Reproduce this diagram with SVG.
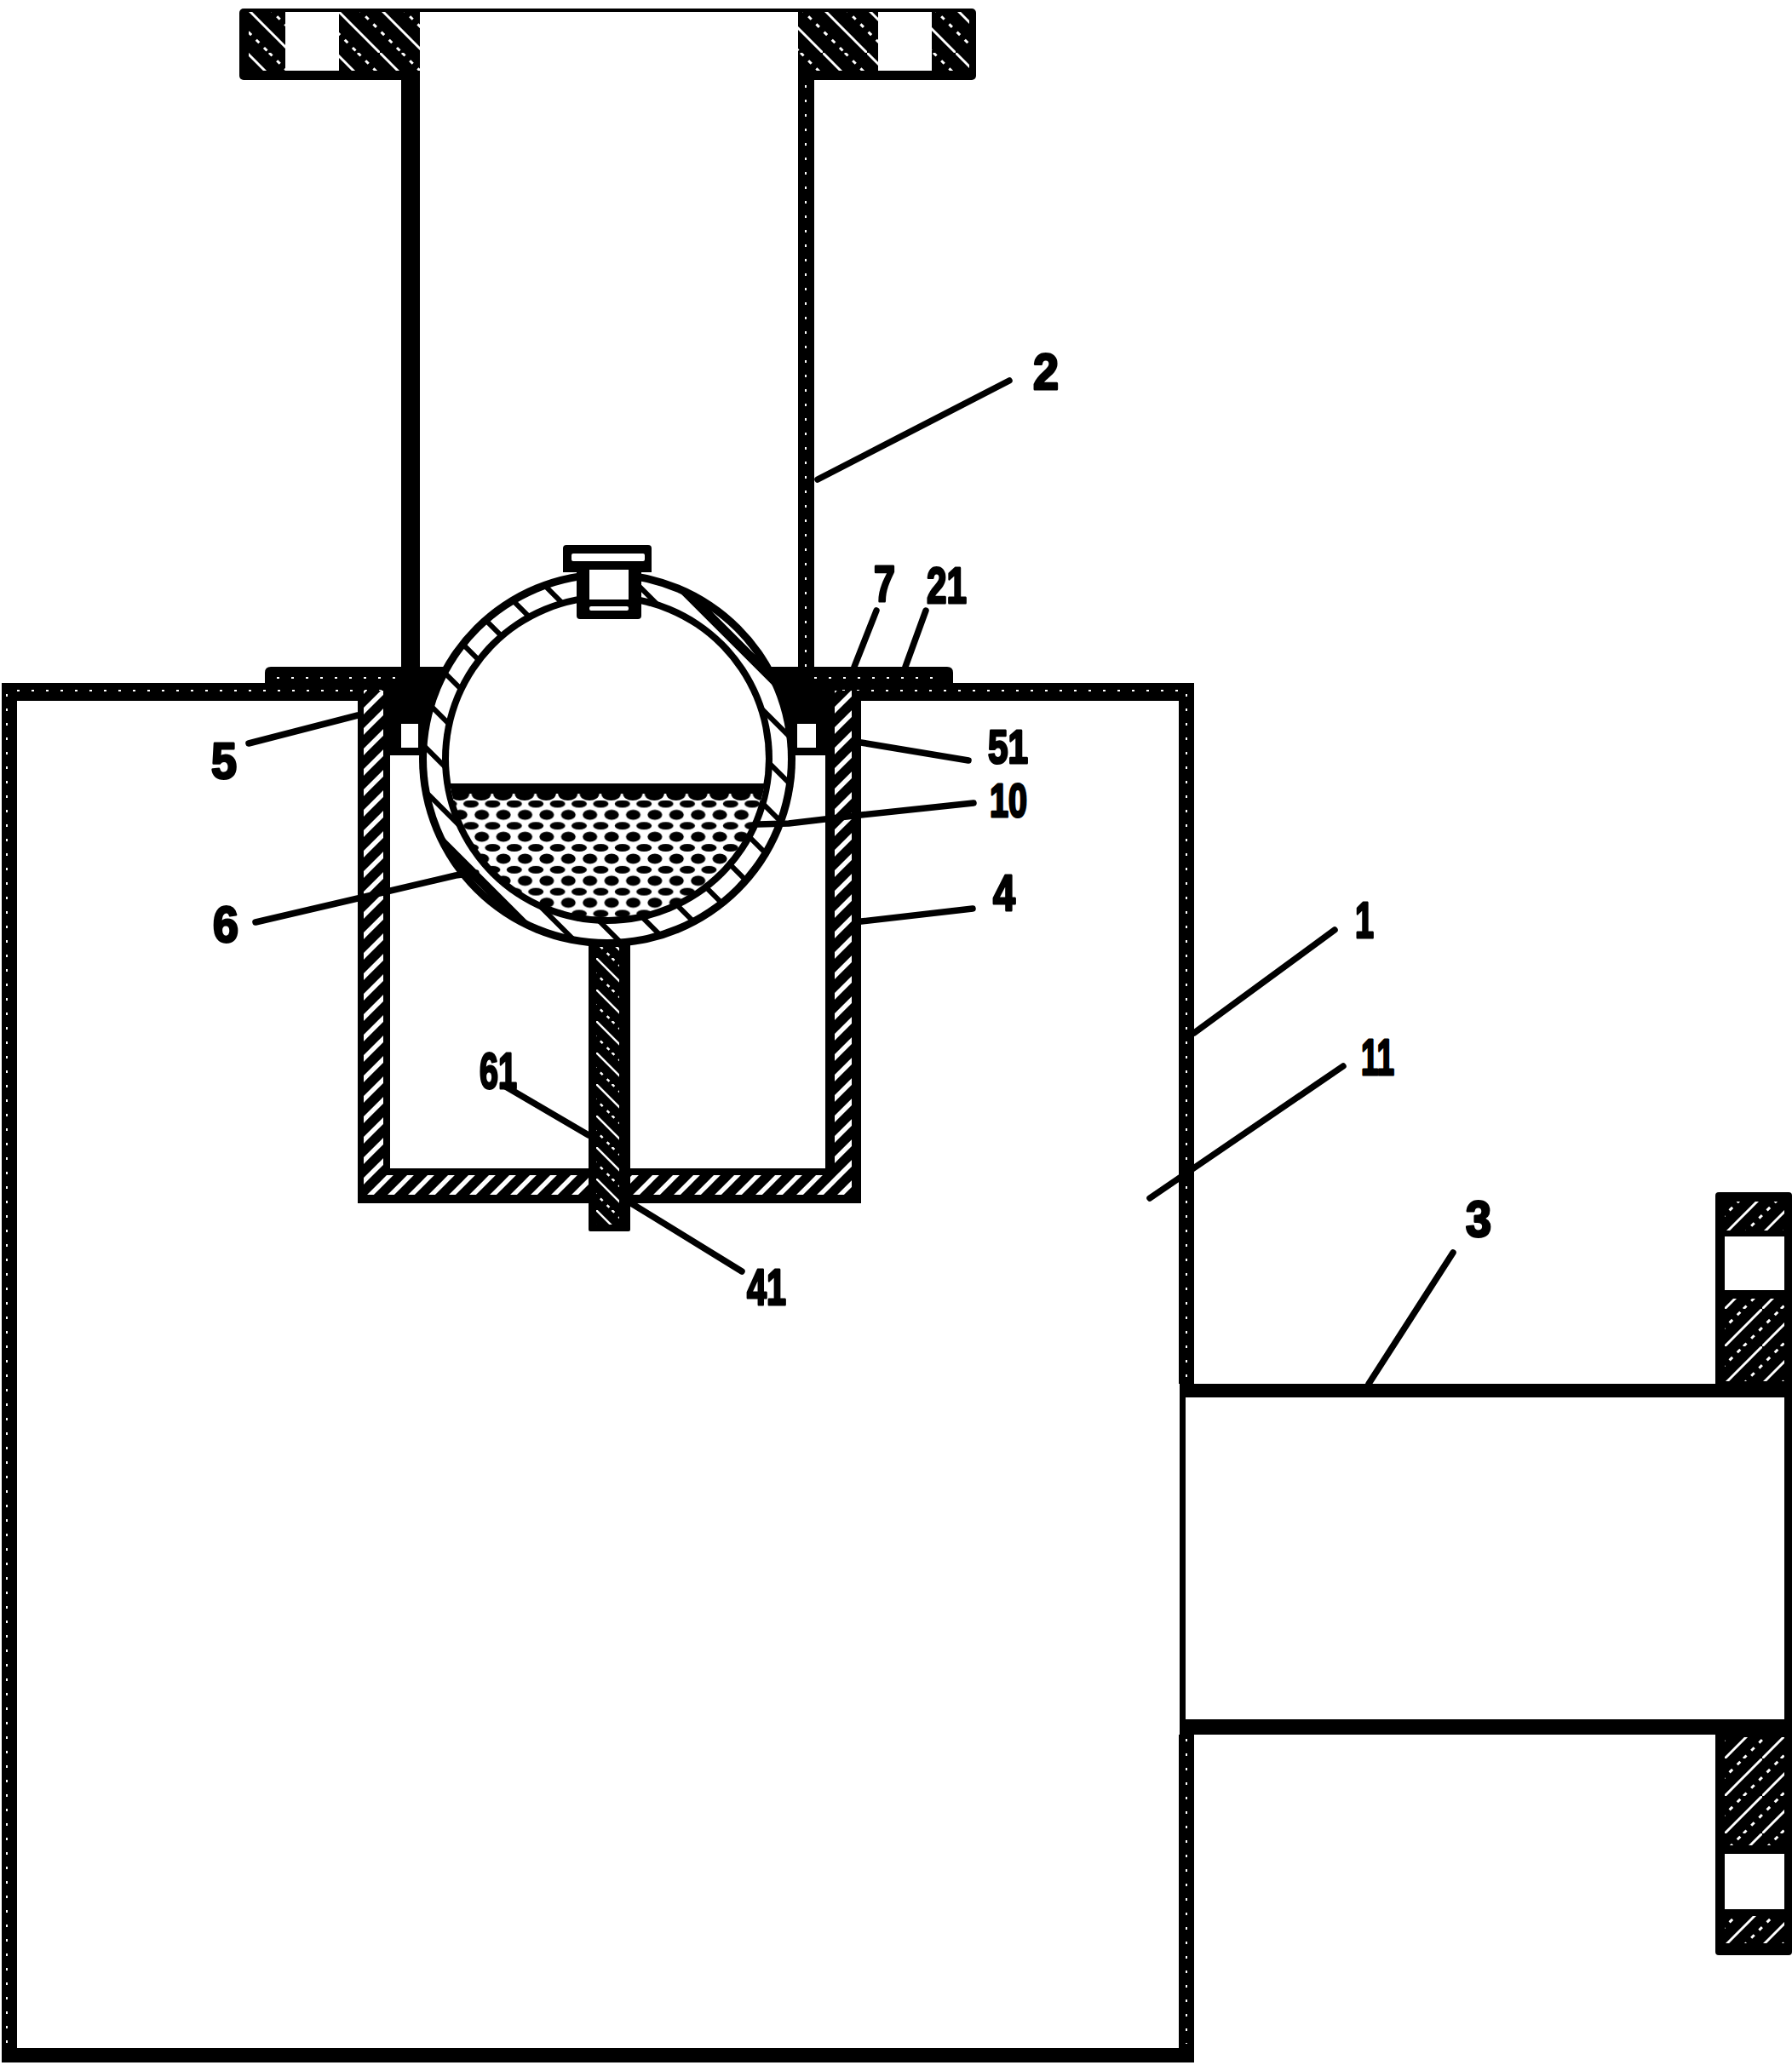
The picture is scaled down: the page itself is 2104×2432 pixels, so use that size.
<svg xmlns="http://www.w3.org/2000/svg" width="2104" height="2432" viewBox="0 0 2104 2432">
<style>
.k{fill:#000}.w{fill:#fff}
.lead{stroke:#000;stroke-width:7.5;stroke-linecap:round;stroke-linejoin:round;fill:none}
.dots{stroke:#fff;stroke-width:2;stroke-dasharray:3 14;fill:none}
.lab{font-family:"Liberation Sans",Arial,sans-serif;font-weight:700;font-size:60px;fill:#000;stroke:#000;stroke-width:3;stroke-linejoin:round}
.lab.sm{font-size:56px}
</style>
<defs>
<pattern id="hThin" width="52" height="52" patternUnits="userSpaceOnUse" patternTransform="translate(290,10)">
<rect width="52" height="52" fill="#000"/>
<path d="M0 0L52 52" stroke="#fff" stroke-width="3" fill="none"/>
<path d="M-26 0L26 52M26 0L78 52" stroke="#fff" stroke-width="3" stroke-dasharray="5 8" fill="none"/>
</pattern>
<pattern id="hRod" width="37" height="37" patternUnits="userSpaceOnUse" patternTransform="translate(700,1125)">
<rect width="37" height="37" fill="#000"/>
<path d="M0 0L37 37" stroke="#fff" stroke-width="2.5" fill="none"/>
<path d="M-18.5 0L18.5 37M18.5 0L55.5 37" stroke="#fff" stroke-width="2.5" stroke-dasharray="4 7" fill="none"/>
</pattern>
<pattern id="hRight" width="44" height="44" patternUnits="userSpaceOnUse" patternTransform="translate(2025,1405)">
<rect width="44" height="44" fill="#000"/>
<path d="M0 44L44 0" stroke="#fff" stroke-width="3" fill="none"/>
<path d="M-22 44L22 0M22 44L66 0" stroke="#fff" stroke-width="3" stroke-dasharray="5 8" fill="none"/>
</pattern>
<pattern id="hCup" width="24" height="24" patternUnits="userSpaceOnUse" patternTransform="translate(427,811)">
<rect width="24" height="24" fill="#000"/>
<path d="M-6 30L30 -6M-6 6L6 -6M18 30L30 18" stroke="#fff" stroke-width="5.5" fill="none"/>
</pattern>
<pattern id="liq" width="25.4" height="25.8" patternUnits="userSpaceOnUse" patternTransform="translate(540.3,937.5)">
<ellipse cx="12.7" cy="6.45" rx="9" ry="4.5" fill="#000"/>
<ellipse cx="0" cy="19.35" rx="8.5" ry="6" fill="#000"/>
<ellipse cx="25.4" cy="19.35" rx="8.5" ry="6" fill="#000"/>
</pattern>
<pattern id="scal" width="25.4" height="20" patternUnits="userSpaceOnUse" patternTransform="translate(527,926)">
<ellipse cx="12.7" cy="6" rx="11.5" ry="8" fill="#000"/>
</pattern>
<clipPath id="ringClip"><circle cx="713" cy="891" r="213"/></clipPath>
<clipPath id="innerClip"><circle cx="713" cy="891" r="187"/></clipPath>
</defs>
<rect width="2104" height="2432" fill="#fff"/>

<g id="box-1">
<path class="k" fill-rule="evenodd" d="M2 802H1402V1625H1384V2037H1402V2422H2ZM20 823V2405H1384V823Z"/>
<path class="dots" d="M8 815V2400M20 811H1393M1393 815V1620M1393 2042V2400"/>
<rect class="w" x="1392" y="1641" width="12" height="378"/>
</g>

<g id="pipe-3">
<rect class="k" x="1385" y="1625" width="640" height="16"/>
<rect class="k" x="1385" y="2019" width="640" height="18"/>
<rect class="k" x="1385" y="1625" width="7" height="412"/>
<rect class="k" x="2014" y="1400" width="90" height="896" rx="4"/>
<rect class="w" x="2014" y="1641" width="81" height="378"/>
<rect class="w" x="2025" y="1452" width="70" height="63"/>
<rect class="w" x="2025" y="2177" width="70" height="65"/>
<rect x="2025" y="1411" width="70" height="34" fill="url(#hRight)"/>
<rect x="2025" y="1525" width="70" height="97" fill="url(#hRight)"/>
<rect x="2025" y="2040" width="70" height="127" fill="url(#hRight)"/>
<rect x="2025" y="2250" width="70" height="32" fill="url(#hRight)"/>
</g>

<g id="pipe-2">
<rect class="k" x="281" y="10" width="865" height="84" rx="5"/>
<rect class="w" x="493" y="14" width="444" height="90"/>
<rect class="w" x="335" y="14" width="63" height="69"/>
<rect class="w" x="1031" y="14" width="63" height="69"/>
<rect x="292" y="14" width="43" height="69" fill="url(#hThin)"/>
<rect x="398" y="14" width="95" height="69" fill="url(#hThin)"/>
<rect x="937" y="14" width="94" height="69" fill="url(#hThin)"/>
<rect x="1094" y="14" width="44" height="69" fill="url(#hThin)"/>
<rect class="k" x="471" y="90" width="22" height="720"/>
<rect class="k" x="937" y="90" width="19" height="720"/>
<path class="dots" d="M946 100V800"/>
</g>

<g id="cup-4">
<path class="k" fill-rule="evenodd" d="M420 811H1011V1413H420ZM458 887V1372H969V887Z"/>
<rect x="427" y="811" width="23" height="592" fill="url(#hCup)"/>
<rect x="980" y="811" width="20" height="592" fill="url(#hCup)"/>
<rect x="427" y="1380" width="573" height="23" fill="url(#hCup)"/>
</g>

<g id="plate-21">
<path class="k" d="M311 802V790Q311 783 318 783H1112Q1119 783 1119 790V802Z"/>
<path class="dots" d="M325 796H471M956 796H1100"/>
</g>

<g id="seat-5">
<path class="k" d="M450 797H520V887H450ZM910 797H980V887H910Z"/>
<rect class="w" x="471" y="850" width="20" height="28"/>
<rect class="w" x="936" y="850" width="22" height="28"/>
</g>

<g id="rod-61">
<rect class="k" x="691" y="1100" width="49" height="346" rx="2"/>
<rect x="700" y="1112" width="27" height="326" fill="url(#hRod)"/>
</g>

<g id="ball-6">
<circle class="k" cx="713" cy="891" r="221"/>
<circle class="w" cx="713" cy="891" r="212"/>
<g clip-path="url(#ringClip)" stroke="#000" stroke-width="6">
<path d="M400 338L1100 1038M400 393L1100 1093M400 448L1100 1148M400 503L1100 1203M400 558L1100 1258M400 613L1100 1313M400 668L1100 1368M400 723L1100 1423M400 778L1100 1478M400 830L1100 1530"/>
<path stroke-width="11" d="M400 290L1100 990M400 870L1100 1570"/>
</g>
<circle class="k" cx="713" cy="891" r="194"/>
<circle class="w" cx="713" cy="891" r="186"/>
<g clip-path="url(#innerClip)">
<rect x="520" y="932" width="390" height="160" fill="url(#liq)"/>
<rect x="520" y="926" width="390" height="14" fill="#fff"/>
<rect x="520" y="926" width="390" height="14" fill="url(#scal)"/>
<rect class="k" x="520" y="920" width="390" height="12"/>
</g>
<path class="k" d="M661 644Q661 640 665 640H761Q765 640 765 644V672H753V723Q753 727 749 727H681Q677 727 677 723V672H661Z"/>
<rect class="w" x="671" y="650" width="86" height="9" rx="2"/>
<rect class="w" x="692" y="669" width="46" height="35"/>
<rect class="w" x="692" y="712" width="46" height="5" rx="2"/>
</g>

<g id="connectors">
<path class="lead" d="M1185 447L960 563"/>
<path class="lead" d="M1567 1092L1402 1213"/>
<path class="lead" d="M1577 1252L1350 1407"/>
<path class="lead" d="M1706 1471L1607 1625"/>
<path class="lead" d="M292 873L420 840"/>
<path class="lead" d="M300 1083L420 1055L535 1028L559 1025"/>
<path class="lead" d="M592 1275L691 1333"/>
<path class="lead" d="M741 1413L871 1493"/>
<path class="lead" d="M1029 717L1003 783"/>
<path class="lead" d="M1087 717L1063 783"/>
<path class="lead" d="M1011 872L1137 893"/>
<path class="lead" d="M1143 943L1011 957L926 967L890 968"/>
<path class="lead" d="M1142 1067L1011 1082"/>
</g>

<g id="labels">
<text class="lab" x="1213" y="457" textLength="30" lengthAdjust="spacingAndGlyphs">2</text>
<text class="lab" x="1591" y="1101" textLength="22" lengthAdjust="spacingAndGlyphs">1</text>
<text class="lab" x="1598" y="1262" textLength="39" lengthAdjust="spacingAndGlyphs">11</text>
<text class="lab" x="1721" y="1452" textLength="30" lengthAdjust="spacingAndGlyphs">3</text>
<text class="lab" x="248" y="914" textLength="30" lengthAdjust="spacingAndGlyphs">5</text>
<text class="lab" x="250" y="1106" textLength="30" lengthAdjust="spacingAndGlyphs">6</text>
<text class="lab" x="563" y="1278" textLength="44" lengthAdjust="spacingAndGlyphs">61</text>
<text class="lab" x="877" y="1532" textLength="46" lengthAdjust="spacingAndGlyphs">41</text>
<text class="lab" x="1026" y="706" textLength="25" lengthAdjust="spacingAndGlyphs">7</text>
<text class="lab" x="1088" y="708" textLength="47" lengthAdjust="spacingAndGlyphs">21</text>
<text class="lab sm" x="1160" y="896" textLength="47" lengthAdjust="spacingAndGlyphs">51</text>
<text class="lab sm" x="1162" y="959" textLength="44" lengthAdjust="spacingAndGlyphs">10</text>
<text class="lab" x="1166" y="1069" textLength="26" lengthAdjust="spacingAndGlyphs">4</text>
</g>
</svg>
